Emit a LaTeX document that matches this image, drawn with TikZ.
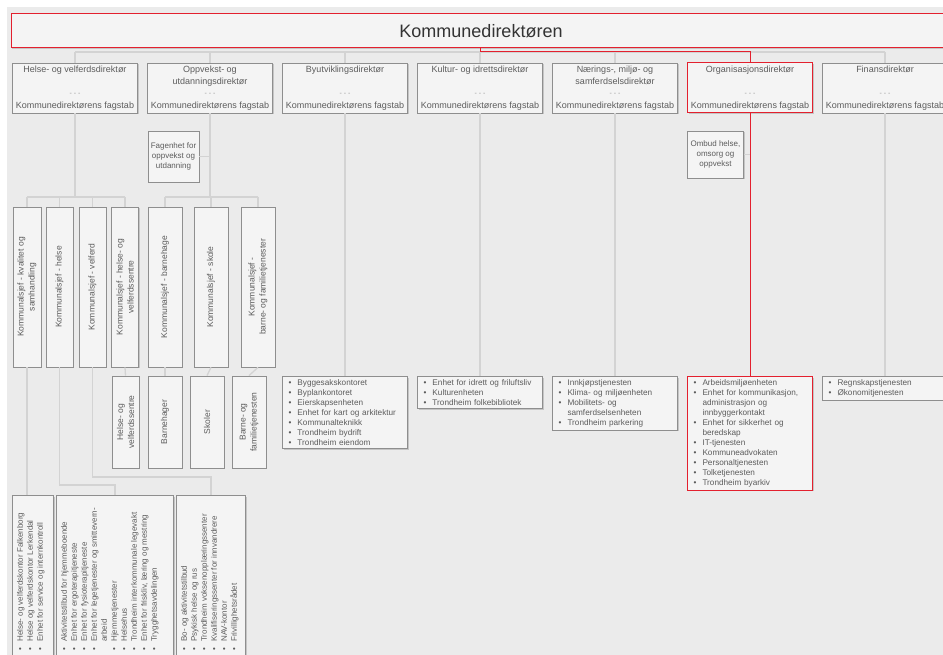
\documentclass[tikz,border=0pt]{standalone}
\usepackage{fontspec}
\setmainfont{Liberation Sans}
\usetikzlibrary{shadows}

\definecolor{bggray}{HTML}{EBEBEB}
\definecolor{boxfill}{HTML}{F4F4F4}
\definecolor{boxline}{HTML}{8E8E8E}
\definecolor{linkgray}{HTML}{D3D3D3}
\definecolor{txtgray}{HTML}{5C5C5C}
\definecolor{orgred}{HTML}{E3202E}

\newcommand{\bl}{\makebox[10pt][l]{\hspace{1pt}\textbullet}}
\newcommand{\cn}{\hspace*{10pt}}

\begin{document}
\begin{tikzpicture}[x=1pt, y=-1pt,
	box/.style={draw=boxline, fill=boxfill, line width=0.8pt, inner sep=0pt,
		drop shadow={shadow xshift=1.2pt, shadow yshift=-1.2pt, opacity=.35}},
	redframe/.style={draw=orgred, line width=1pt},
	dirtxt/.style={text=txtgray, font=\fontsize{9}{12.5}\selectfont, align=center, inner sep=0pt},
	dots/.style={text=black!40, font=\fontsize{7}{8}\selectfont, inner sep=0pt},
	dir/.style={box, minimum width=125pt, minimum height=50pt,
		label={[dirtxt, anchor=north, yshift=-3pt]north:{#1}},
		label={[dots, anchor=center, yshift=19pt]south:- - -},
		label={[dirtxt, anchor=south, yshift=3pt]south:Kommunedirektørens fagstab}},
	sbox/.style={box, align=center, text=txtgray, font=\fontsize{8}{10}\selectfont},
	kbox/.style={box, minimum height=160pt},
	vtxt/.style={rotate=90, anchor=center, align=center, text=txtgray,
		font=\fontsize{8.5}{11}\selectfont, inner sep=0pt},
	ltxt/.style={rotate=90, anchor=north west, align=left, text=txtgray,
		font=\fontsize{8}{10}\selectfont, inner xsep=0pt, inner ysep=5pt},
	lst/.style={box, anchor=north, text width=115pt, minimum width=125pt,
		inner xsep=5pt, inner ysep=3pt, align=left, text=txtgray,
		font=\fontsize{8.2}{10}\selectfont},
	link/.style={draw=linkgray, line width=1.3pt},
	redlink/.style={draw=orgred, line width=1pt}]

	\useasboundingbox (0,0) rectangle (943,655);
	\clip (0,0) rectangle (943,655);
	\fill[bggray] (7,7) rectangle (943,655);

	\node[box, redframe, minimum width=940pt, minimum height=34pt, text=black!80,
		font=\fontsize{18}{20}\selectfont] (kd) at (481,31) {Kommunedirektøren};

	\node[dir={Helse- og velferdsdirektør}] (helse) at (75,88) {};
	\node[dir={Oppvekst- og\\utdanningsdirektør}] (oppvekst) at (210,88) {};
	\node[dir={Byutviklingsdirektør}] (byutv) at (345,88) {};
	\node[dir={Kultur- og idrettsdirektør}] (kultur) at (480,88) {};
	\node[dir={Nærings-, miljø- og\\samferdselsdirektør}] (naering) at (615,88) {};
	\node[dir={Organisasjonsdirektør}, redframe] (org) at (750,88) {};
	\node[dir={Finansdirektør}] (finans) at (885,88) {};

	\node[sbox, minimum width=51pt, minimum height=51pt] (fag) at (173.5,156.5) {Fagenhet for\\oppvekst og\\utdanning};
	\node[sbox, minimum width=56pt, minimum height=47pt] (ombud) at (715.5,154.5) {Ombud helse,\\omsorg og\\oppvekst};

	\node[kbox, minimum width=28pt, label={[vtxt]center:{Kommunalsjef - kvalitet og\\samhandling}}] (k1) at (27,287) {};
	\node[kbox, minimum width=27pt, label={[vtxt]center:{Kommunalsjef - helse}}] (k2) at (59.5,287) {};
	\node[kbox, minimum width=27pt, label={[vtxt]center:{Kommunalsjef - velferd}}] (k3) at (92.5,287) {};
	\node[kbox, minimum width=27pt, label={[vtxt]center:{Kommunalsjef - helse- og\\velferdssentre}}] (k4) at (125,287) {};
	\node[kbox, minimum width=34pt, label={[vtxt]center:{Kommunalsjef - barnehage}}] (k5) at (165,287) {};
	\node[kbox, minimum width=34pt, label={[vtxt]center:{Kommunalsjef - skole}}] (k6) at (211,287) {};
	\node[kbox, minimum width=34pt, label={[vtxt]center:{Kommunalsjef -\\barne- og familietjenester}}] (k7) at (258,287) {};

	\node[box, minimum width=27pt, minimum height=92pt, label={[vtxt]center:{Helse- og\\velferdssentre}}] (s1) at (125.5,422) {};
	\node[box, minimum width=34pt, minimum height=92pt, label={[vtxt]center:{Barnehager}}] (s2) at (165,422) {};
	\node[box, minimum width=34pt, minimum height=92pt, label={[vtxt]center:{Skoler}}] (s3) at (207,422) {};
	\node[box, minimum width=34pt, minimum height=92pt, label={[vtxt]center:{Barne- og\\familietjenesten}}] (s4) at (249,422) {};

	\node[box, minimum width=41pt, minimum height=170pt, anchor=north west] (bA) at (12,495) {};
	\node[box, minimum width=117pt, minimum height=170pt, anchor=north west] (bB) at (56,495) {};
	\node[box, minimum width=69pt, minimum height=170pt, anchor=north west] (bC) at (176,495) {};
	\node[ltxt] (bAt) at ([yshift=14pt]bA.south west) {\bl Helse- og velferdskontor Falkenborg\\
		\bl Helse og velferdskontor Lerkendal\\
		\bl Enhet for service og internkontroll};
	\node[ltxt] (bBt) at ([yshift=14pt]bB.south west) {\bl Aktivitetstilbud for hjemmeboende\\
		\bl Enhet for ergoterapitjeneste\\
		\bl Enhet for fysioterapitjeneste\\
		\bl Enhet for legetjenester og smittevern-\\
		\cn arbeid\\
		\bl Hjemmetjenester\\
		\bl Helsehus\\
		\bl Trondheim interkommunale legevakt\\
		\bl Enhet for friskliv, læring og mestring\\
		\bl Trygghetsavdelingen};
	\node[ltxt] (bCt) at ([yshift=14pt]bC.south west) {\bl Bo- og aktivitetstilbud\\
		\bl Psykisk helse og rus\\
		\bl Trondheim voksenopplæringssenter\\
		\bl Kvalifiseringssenter for innvandrere\\
		\bl NAV-kontor\\
		\bl Frivillighetsrådet};

	\node[lst] (byutvL) at (345,376) {\bl Byggesakskontoret\\
		\bl Byplankontoret\\
		\bl Eierskapsenheten\\
		\bl Enhet for kart og arkitektur\\
		\bl Kommunalteknikk\\
		\bl Trondheim bydrift\\
		\bl Trondheim eiendom};
	\node[lst] (kulturL) at (480,376) {\bl Enhet for idrett og friluftsliv\\
		\bl Kulturenheten\\
		\bl Trondheim folkebibliotek};
	\node[lst] (naeringL) at (615,376) {\bl Innkjøpstjenesten\\
		\bl Klima- og miljøenheten\\
		\bl Mobilitets- og\\
		\cn samferdselsenheten\\
		\bl Trondheim parkering};
	\node[lst, redframe] (orgL) at (750,376) {\bl Arbeidsmiljøenheten\\
		\bl Enhet for kommunikasjon,\\
		\cn administrasjon og\\
		\cn innbyggerkontakt\\
		\bl Enhet for sikkerhet og\\
		\cn beredskap\\
		\bl IT-tjenesten\\
		\bl Kommuneadvokaten\\
		\bl Personaltjenesten\\
		\bl Tolketjenesten\\
		\bl Trondheim byarkiv};
	\node[lst] (finansL) at (885,376) {\bl Regnskapstjenesten\\
		\bl Økonomitjenesten};

	\coordinate (hub) at (480,52);
	\coordinate (hj) at (75,197);
	\coordinate (oj) at (210,197);
	\coordinate (j2) at (0,485);
	\coordinate (j3) at (0,477);

	\draw[link] (helse.north |- hub) -- (finans.north |- hub);
	\foreach \d in {helse,oppvekst,byutv,kultur,naering,finans}
		\draw[link] (\d.north |- hub) -- (\d.north);
	\draw[link] (helse.south) -- (hj);
	\draw[link] (oppvekst.south) -- (oj);
	\draw[link] (fag.east) -- (fag.east -| oj);
	\draw[link] (k1.north |- hj) -- (k4.north |- hj);
	\draw[link] (k5.north |- oj) -- (k7.north |- oj);
	\foreach \k in {k1,k2,k3,k4}
		\draw[link] (\k.north |- hj) -- (\k.north);
	\foreach \k in {k5,k6,k7}
		\draw[link] (\k.north |- oj) -- (\k.north);
	\draw[link] (k4.south) -- (s1.north);
	\draw[link] (k5.south) -- (s2.north);
	\draw[link] (k6.south) -- (s3.north);
	\draw[link] (k7.south) -- (s4.north);
	\draw[link] (k1.south) -- (k1.south |- bA.north);
	\draw[link] (k2.south) -- (k2.south |- j2) -| (bB.north);
	\draw[link] (k3.south) -- (k3.south |- j3) -| (bC.north);
	\foreach \d/\l in {byutv/byutvL,kultur/kulturL,naering/naeringL,finans/finansL}
		\draw[link] (\d.south) -- (\l.north);
	\draw[link] (ombud.east) -- (ombud.east -| org.south);

	\draw[redlink] (kd.south -| hub) -- (hub) -| (org.north);
	\draw[redlink] (org.south) -- (orgL.north);
\end{tikzpicture}
\end{document}
